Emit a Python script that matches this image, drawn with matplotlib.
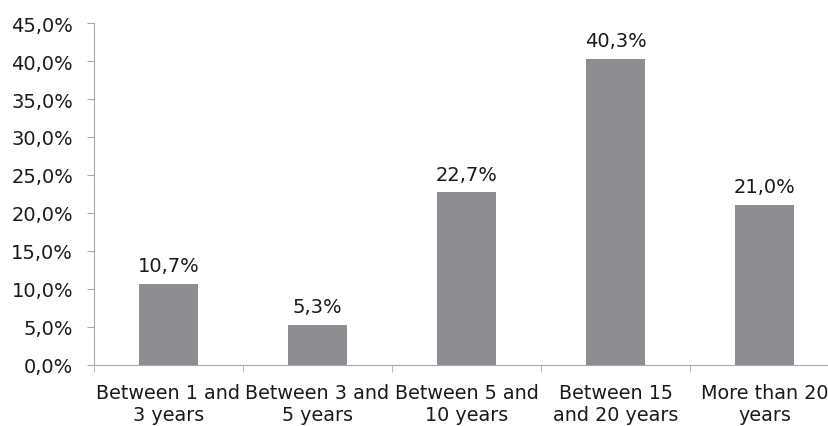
import matplotlib.pyplot as plt
from matplotlib.ticker import FuncFormatter

categories = ["Between 1 and\n3 years", "Between 3 and\n5 years", "Between 5 and\n10 years",
              "Between 15\nand 20 years", "More than 20\nyears"]
values = [10.7, 5.3, 22.7, 40.3, 21.0]

plt.rcParams['font.family'] = ['DejaVu Sans']

fig = plt.figure(figsize=(8.29, 4.27), dpi=100)
ax = fig.add_axes([94 / 829, 1 - 366 / 427, 745 / 829, 342 / 427])

x = range(len(values))
ax.bar(x, values, width=0.4, color='#8e8e92')
for i, v in zip(x, values):
    ax.text(i, v + 1.7, f"{v:.1f}%".replace('.', ','), ha='center', va='baseline',
            fontsize=14, color='#1a1a1a')

ax.set_xlim(-0.5, len(values) - 0.5)
ax.set_ylim(0, 45)
ax.set_yticks(range(0, 46, 5))
ax.yaxis.set_major_formatter(FuncFormatter(lambda y, _: f"{y:.1f}%".replace('.', ',')))
ax.set_xticks(list(x))
ax.set_xticklabels(categories, fontsize=13.8, color='#1a1a1a', linespacing=1.2)
ax.set_xticks([i + 0.5 for i in range(-1, len(values))], minor=True)
ax.tick_params(axis='x', which='major', length=0, pad=13)
ax.tick_params(axis='x', which='minor', length=5, color='#aaaaaa')
ax.tick_params(axis='y', length=5, color='#aaaaaa', labelsize=14, labelcolor='#1a1a1a', pad=10)

for s in ['top', 'right']:
    ax.spines[s].set_visible(False)
for s in ['left', 'bottom']:
    ax.spines[s].set_color('#aaaaaa')

fig.savefig('out.png', dpi=100)
